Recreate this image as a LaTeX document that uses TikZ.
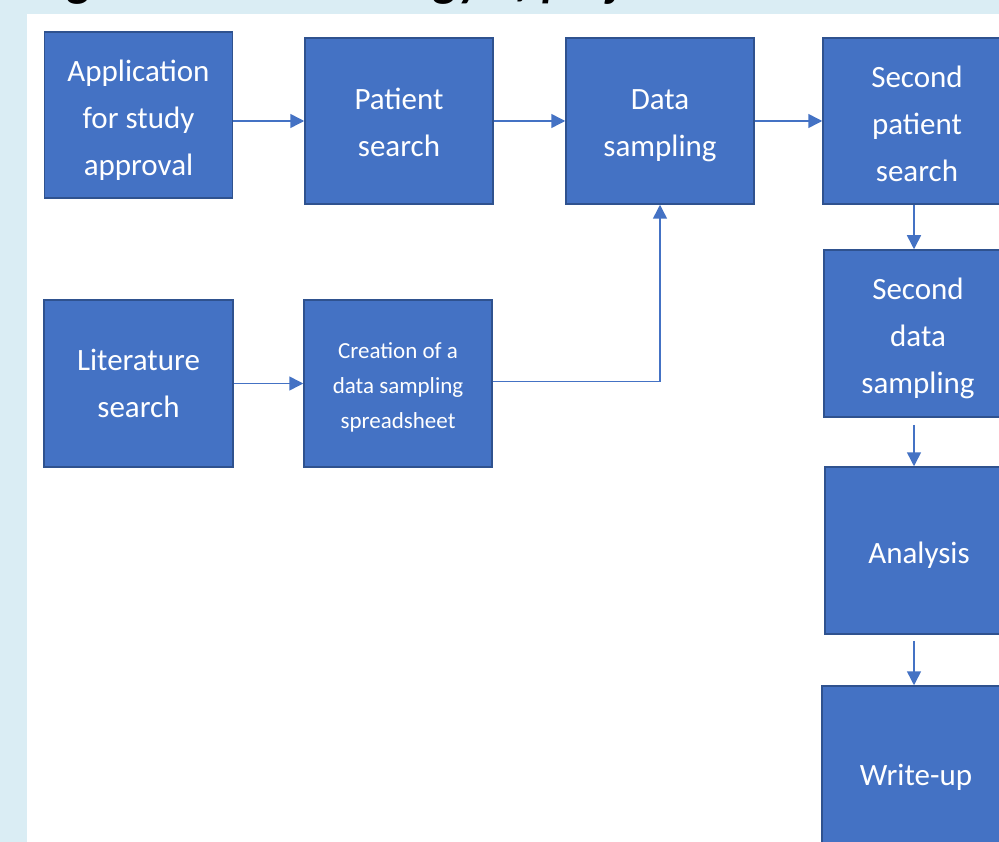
\documentclass[tikz,border=0pt]{standalone}
\usepackage{fontspec}
\setmainfont{Carlito}
\usetikzlibrary{arrows.meta,calc}
\definecolor{bgblue}{HTML}{DAEDF4}
\definecolor{boxblue}{HTML}{4472C4}
\definecolor{boxedge}{HTML}{2F528F}
\tikzset{
  stepbox/.style={rectangle, fill=boxblue, draw=boxedge, line width=1.5pt,
    minimum width=188pt, minimum height=166pt, inner sep=0pt},
  boxtext/.style={text=white, align=center, inner sep=0pt, font=\fontsize{31}{47}\selectfont},
  smalltext/.style={boxtext, font=\fontsize{23}{35}\selectfont},
  flow/.style={draw=boxblue, line width=1.5pt, -{Triangle[length=14pt,width=14pt]}}
}
\begin{document}
\begin{tikzpicture}[x=1pt,y=-1pt]
\useasboundingbox (0,0) rectangle (999,842);
\clip (0,0) rectangle (999,842);
\fill[bgblue] (0,0) rectangle (999,842);
\fill[white] (27,14) rectangle (999,842);
\node[anchor=base west, inner sep=0pt, font=\fontsize{47}{47}\bfseries\itshape\selectfont] (title) at (35,-3.5) {Figure 1: Methodology of project};

\node[stepbox, label={[boxtext, yshift=-5pt]center:Application\\for study\\approval}] (app) at (138.5,115) {};
\node[stepbox, label={[boxtext, yshift=-1pt]center:Patient\\search}] (pat) at (399,121) {};
\node[stepbox, label={[boxtext, yshift=-5pt]center:Data\\sampling}] (dat) at (660,121) {};
\node[stepbox, label={[boxtext, yshift=-3pt]center:Second\\patient\\search}] (spat) at (917,121) {};
\node[stepbox, minimum height=167pt, label={[boxtext, yshift=-5pt]center:Second\\data\\sampling}] (sdat) at (918,333.5) {};
\node[stepbox, minimum height=167pt, label={[boxtext, yshift=-5pt]center:Analysis}] (ana) at (919,550.5) {};
\node[stepbox, minimum height=178pt, label={[boxtext, yshift=-2pt]center:Write-up}] (wri) at (916,775) {};
\node[stepbox, minimum width=189pt, minimum height=167pt, label={[boxtext]center:Literature\\search}] (lit) at (138.5,383.5) {};
\node[stepbox, minimum height=167pt, label={[smalltext, yshift=-4pt]center:Creation of a\\data sampling\\spreadsheet}] (cre) at (398,383.5) {};

\draw[flow] (app.east |- pat.west) -- (pat.west);
\draw[flow] (pat.east) -- (dat.west);
\draw[flow] (dat.east) -- (spat.west);
\draw[flow] (lit.east |- cre.west) -- (cre.west);
\draw[flow] ([yshift=2pt]cre.east) -| (dat.south);
\draw[flow] ([xshift=-3pt]spat.south) -- ([xshift=-3pt]spat.south |- sdat.north);
\draw[flow, shorten <=7pt] ([xshift=-4pt]sdat.south) -- ([xshift=-4pt]sdat.south |- ana.north);
\draw[flow, shorten <=6pt] ([xshift=-5pt]ana.south) -- ([xshift=-5pt]ana.south |- wri.north);
\end{tikzpicture}
\end{document}
